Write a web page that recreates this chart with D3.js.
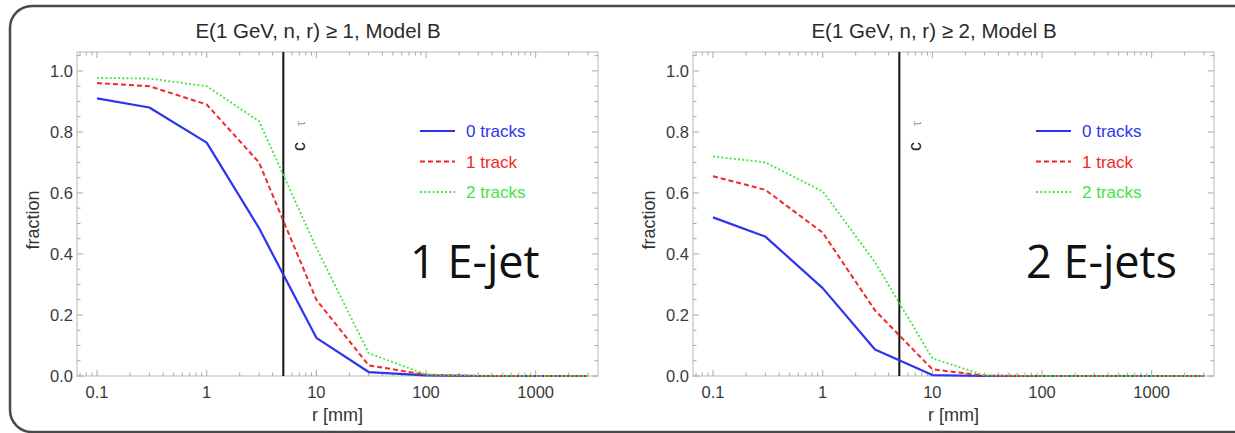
<!DOCTYPE html>
<html>
<head>
<meta charset="utf-8">
<script src="https://cdn.jsdelivr.net/npm/d3@7"></script>
<style>
  html, body { margin: 0; padding: 0; background: #fff; }
  svg { display: block; }
</style>
</head>
<body>
<svg id="chart" width="1235" height="433"></svg>
<script>
// Decay radius values (mm) sampled for every curve
const radii = [0.1, 0.3, 1, 3, 10, 30, 100, 300, 1000, 3000];

// Fraction of events, at least one E-jet
const oneJet0Tracks = [0.91, 0.88, 0.765, 0.485, 0.125, 0.013, 0.002, 0, 0, 0];
const oneJet1Track  = [0.96, 0.95, 0.89, 0.70, 0.25, 0.035, 0.004, 0, 0, 0];
const oneJet2Tracks = [0.977, 0.975, 0.95, 0.835, 0.42, 0.075, 0.005, 0.001, 0, 0];

// Fraction of events, at least two E-jets
const twoJet0Tracks = [0.52, 0.457, 0.288, 0.087, 0.003, 0, 0, 0, 0, 0];
const twoJet1Track  = [0.655, 0.61, 0.47, 0.215, 0.022, 0.001, 0, 0, 0, 0];
const twoJet2Tracks = [0.72, 0.70, 0.605, 0.373, 0.058, 0.002, 0, 0, 0, 0];

const seriesNames = ["0 tracks", "1 track", "2 tracks"];
const xTickValues = [0.1, 1, 10, 100, 1000];
const xTickLabels = ["0.1", "1", "10", "100", "1000"];
const yTickValues = [0, 0.2, 0.4, 0.6, 0.8, 1.0];
const ctauValue = 5; // mm

const panels = [
  { title: "E(1 GeV, n, r) \u2265 1, Model B", tag: "1 E-jet",
    series: [oneJet0Tracks, oneJet1Track, oneJet2Tracks], left: 77 },
  { title: "E(1 GeV, n, r) \u2265 2, Model B", tag: "2 E-jets",
    series: [twoJet0Tracks, twoJet1Track, twoJet2Tracks], left: 693 }
];

const styles = [
  { color: "#2b35f0", width: 2.2, dash: null },
  { color: "#f02828", width: 2.0, dash: "5,3" },
  { color: "#45e445", width: 1.8, dash: "2,2.2" }
];

const svg = d3.select("#chart");

// Outer rounded frame (open on the right)
svg.append("path")
  .attr("d", "M1240,6 H32 A22,22 0 0 0 10,28 V410 A22,22 0 0 0 32,432 H1240")
  .attr("fill", "none").attr("stroke", "#4a4a4a").attr("stroke-width", 2.5);

const plotW = 521, plotTop = 52, plotBottom = 376;
const sans = "'Liberation Sans', Arial, sans-serif";

panels.forEach(p => {
  const x = d3.scaleLog().domain([0.0657, 3700]).range([p.left, p.left + plotW]);
  const y = d3.scaleLinear().domain([0, 1.062]).range([plotBottom, plotTop]);
  const g = svg.append("g");

  // frame
  g.append("rect").attr("x", p.left).attr("y", plotTop)
    .attr("width", plotW).attr("height", plotBottom - plotTop)
    .attr("fill", "none").attr("stroke", "#c4c4c4").attr("stroke-width", 1.2);

  // minor/major ticks on all sides, pointing inward
  const xMinor = [];
  [0.01, 0.1, 1, 10, 100, 1000].forEach(d => {
    for (let k = 2; k <= 9; k++) {
      const v = d * k;
      if (v > x.domain()[0] && v < x.domain()[1]) xMinor.push(v);
    }
  });
  const yMinor = d3.range(0, 1.06, 0.05).filter(v => Math.abs(v * 5 - Math.round(v * 5)) > 1e-6);
  const tk = g.append("g").attr("stroke", "#a8a8a8").attr("stroke-width", 1);
  xTickValues.forEach(v => {
    tk.append("line").attr("x1", x(v)).attr("x2", x(v)).attr("y1", plotBottom).attr("y2", plotBottom - 6);
    tk.append("line").attr("x1", x(v)).attr("x2", x(v)).attr("y1", plotTop).attr("y2", plotTop + 6);
  });
  xMinor.forEach(v => {
    tk.append("line").attr("x1", x(v)).attr("x2", x(v)).attr("y1", plotBottom).attr("y2", plotBottom - 3.5);
    tk.append("line").attr("x1", x(v)).attr("x2", x(v)).attr("y1", plotTop).attr("y2", plotTop + 3.5);
  });
  yTickValues.forEach(v => {
    tk.append("line").attr("x1", p.left).attr("x2", p.left + 6).attr("y1", y(v)).attr("y2", y(v));
    tk.append("line").attr("x1", p.left + plotW).attr("x2", p.left + plotW - 6).attr("y1", y(v)).attr("y2", y(v));
  });
  yMinor.forEach(v => {
    tk.append("line").attr("x1", p.left).attr("x2", p.left + 3.5).attr("y1", y(v)).attr("y2", y(v));
    tk.append("line").attr("x1", p.left + plotW).attr("x2", p.left + plotW - 3.5).attr("y1", y(v)).attr("y2", y(v));
  });

  // tick labels
  g.selectAll(".xl").data(xTickValues).enter().append("text")
    .attr("x", d => x(d)).attr("y", plotBottom + 22)
    .attr("text-anchor", "middle").attr("font-family", sans).attr("font-size", 16.5)
    .attr("fill", "#3a3a3a").text((d, i) => xTickLabels[i]);
  g.selectAll(".yl").data(yTickValues).enter().append("text")
    .attr("x", p.left - 4).attr("y", d => y(d) + 6)
    .attr("text-anchor", "end").attr("font-family", sans).attr("font-size", 16.5)
    .attr("fill", "#3a3a3a").text(d => d.toFixed(1));

  // axis labels and title
  g.append("text").attr("x", p.left + plotW / 2).attr("y", 421)
    .attr("text-anchor", "middle").attr("font-family", sans).attr("font-size", 18)
    .attr("fill", "#333").text("r [mm]");
  g.append("text")
    .attr("transform", `translate(${p.left - 38},${(plotTop + plotBottom) / 2 + 6}) rotate(-90)`)
    .attr("text-anchor", "middle").attr("font-family", sans).attr("font-size", 18)
    .attr("fill", "#333").text("fraction");
  g.append("text").attr("x", p.left + 241).attr("y", 38)
    .attr("text-anchor", "middle").attr("font-family", sans).attr("font-size", 20.5)
    .attr("fill", "#2a2a2a").text(p.title);

  // decay length marker
  g.append("line").attr("x1", x(ctauValue)).attr("x2", x(ctauValue))
    .attr("y1", plotTop).attr("y2", plotBottom)
    .attr("stroke", "#111").attr("stroke-width", 2);
  const ct = g.append("text")
    .attr("transform", `translate(${x(ctauValue) + 22},${151}) rotate(-90)`)
    .attr("text-anchor", "start").attr("font-family", sans).attr("font-size", 18)
    .attr("fill", "#222");
  ct.append("tspan").text("c");
  ct.append("tspan").attr("dx", 16).attr("font-size", 12).attr("fill", "#999").text("\u03c4");

  // curves
  const line = d3.line().x(d => x(d[0])).y(d => y(d[1]));
  p.series.forEach((vals, i) => {
    const pts = radii.map((r, j) => [r, vals[j]]);
    g.append("path").datum(pts).attr("d", line)
      .attr("fill", "none").attr("stroke", styles[i].color)
      .attr("stroke-width", styles[i].width)
      .attr("stroke-dasharray", styles[i].dash)
      .attr("stroke-linejoin", "round");
  });

  // legend
  seriesNames.forEach((name, i) => {
    const ly = 131 + i * 30.5;
    g.append("line").attr("x1", p.left + 343).attr("x2", p.left + 378)
      .attr("y1", ly).attr("y2", ly)
      .attr("stroke", styles[i].color).attr("stroke-width", styles[i].width)
      .attr("stroke-dasharray", styles[i].dash);
    g.append("text").attr("x", p.left + 389).attr("y", ly + 6)
      .attr("font-family", sans).attr("font-size", 17)
      .attr("fill", styles[i].color).text(name);
  });

  // panel tag
  g.append("text").attr("x", p.left + 333).attr("y", 278)
    .attr("font-family", "'Open Sans', sans-serif").attr("font-size", 45)
    .attr("fill", "#111").text(p.tag);
});
</script>
</body>
</html>
